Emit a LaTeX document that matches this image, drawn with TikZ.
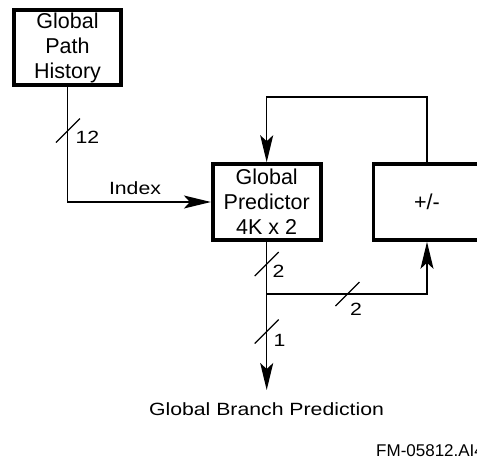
\documentclass[tikz,border=0pt]{standalone}
\usepackage{fontspec}
\setmainfont{Liberation Sans}
\newfontfamily\labfont[FakeStretch=1.2]{Liberation Sans}
\usetikzlibrary{arrows.meta}
\begin{document}
\begin{tikzpicture}[x=1pt,y=-1pt,
  blk/.style={draw, line width=3.6pt, inner sep=0pt, align=center,
    font=\fontsize{21.5}{25}\selectfont},
  wire/.style={line width=1.3pt},
  arr/.style={wire, -{Stealth[length=27pt,width=13pt,inset=6pt]}},
  lab/.style={inner sep=0pt, font=\labfont\fontsize{17.7}{20}\selectfont},
  slash/.style={line width=1.2pt}]
\useasboundingbox (0,0) rectangle (477,459);
% boxes
\node[blk, minimum width=107pt, minimum height=75pt] (gph) at (67.5,47.5) {Global\\Path\\History};
\node[blk, minimum width=108pt, minimum height=76pt] (pred) at (266.7,202) {Global\\Predictor\\4K x 2};
\node[blk, minimum width=107pt, minimum height=76pt] (pm) at (427,202) {+/-};
% helper coordinates
\coordinate (fb) at (266.7,97);
\coordinate (j) at (266.7,294);
\coordinate (outp) at (266.7,390);
% connectors
\draw[arr] (gph.south) |- (pred.west);
\draw[arr] (pm.north) |- (fb) -- (pred.north);
\draw[wire] (pred.south) -- (j);
\draw[arr] (j) -| (pm.south);
\draw[arr] (j) -- (outp);
% bus slashes
\draw[slash] (68,130.5) ++(-12,12) -- ++(24,-24);
\draw[slash] (266.7,264) ++(-12,12) -- ++(24,-24);
\draw[slash] (347.5,294) ++(-12,12) -- ++(24,-24);
\draw[slash] (266.7,331.5) ++(-12,12) -- ++(24,-24);
% labels
\node[lab, anchor=base] (l12) at (87.5,143.3) {12};
\node[lab, anchor=base] (lidx) at (135,194.3) {Index};
\node[lab, anchor=base] (l2a) at (278.5,277) {2};
\node[lab, anchor=base] (l2b) at (356,315) {2};
\node[lab, anchor=base] (l1) at (279.5,346) {1};
\node[lab, anchor=base] (gbp) at (266.5,415.7) {Global Branch Prediction};
\node[inner sep=0pt, anchor=base west, font=\fontsize{17}{20}\selectfont] (fm) at (376,456) {FM-05812.AI4};
\end{tikzpicture}
\end{document}
